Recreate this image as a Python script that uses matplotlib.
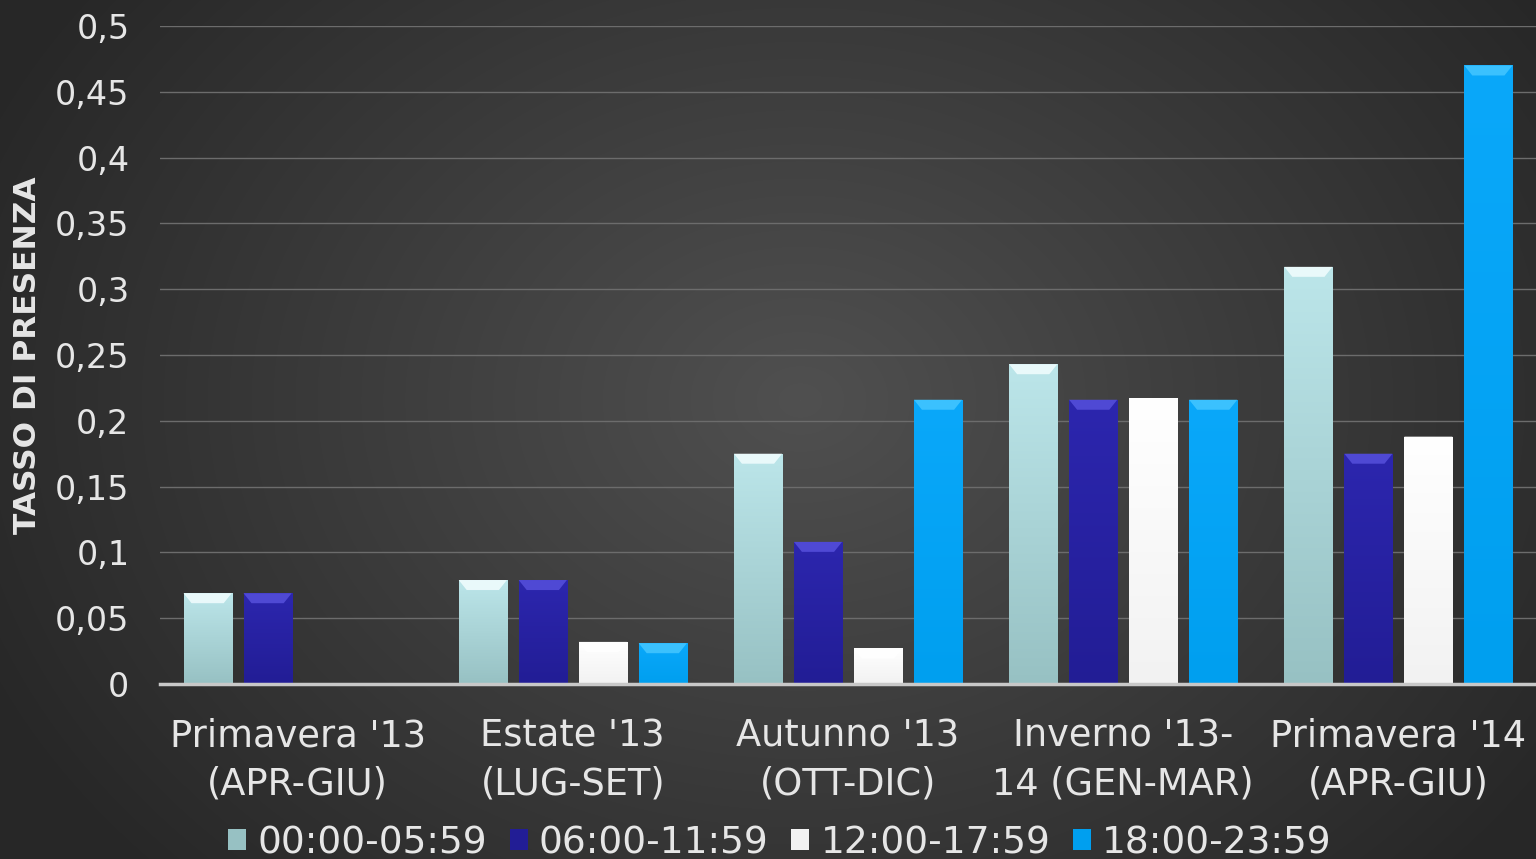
import numpy as np
import matplotlib
matplotlib.use('Agg')
import matplotlib.pyplot as plt
from matplotlib.colors import LinearSegmentedColormap, to_rgb
from matplotlib.patches import Polygon

plt.rcParams['font.family'] = ['DejaVu Sans']

# dati
categorie = ["Primavera '13\n(APR-GIU)", "Estate '13\n(LUG-SET)", "Autunno '13\n(OTT-DIC)",
             "Inverno '13-\n14 (GEN-MAR)", "Primavera '14\n(APR-GIU)"]
fasce = ['00:00-05:59', '06:00-11:59', '12:00-17:59', '18:00-23:59']
v_notte = [0.069, 0.079, 0.175, 0.243, 0.317]
v_mattina = [0.069, 0.079, 0.108, 0.216, 0.175]
v_pomeriggio = [0.0, 0.032, 0.027, 0.217, 0.188]
v_sera = [0.0, 0.031, 0.216, 0.216, 0.470]
yticks = [0, 0.05, 0.1, 0.15, 0.2, 0.25, 0.3, 0.35, 0.4, 0.45, 0.5]

serie = [v_notte, v_mattina, v_pomeriggio, v_sera]
# colore alto, colore basso, smusso
colori = [('#bce6ea', '#97c1c3', '#f2fdfe'), ('#2c26ae', '#221d95', '#5650dc'),
          ('#ffffff', '#f2f2f2', '#ffffff'), ('#0aa8fa', '#009fef', '#45c6ff')]

fig = plt.figure(figsize=(15.36, 8.59), dpi=100)

# sfondo con gradiente radiale
bg = fig.add_axes([0, 0, 1, 1])
bg.set_axis_off()
yy, xx = np.mgrid[0:859, 0:1536]
r = np.sqrt(((xx - 800) / 900.0) ** 2 + ((yy - 400) / 700.0) ** 2)
r = np.clip(r, 0, 1)
c_in = np.array(to_rgb('#505050'))
c_out = np.array(to_rgb('#272727'))
img = c_in[None, None, :] * (1 - r[..., None]) + c_out[None, None, :] * r[..., None]
bg.imshow(img, aspect='auto', extent=[0, 1, 0, 1], origin='upper')
bg.set_xlim(0, 1)
bg.set_ylim(0, 1)

ax = fig.add_axes([160 / 1536, 1 - 684 / 859, 1 - 160 / 1536, (684 - 26) / 859])
ax.patch.set_alpha(0)
ax.set_xlim(-0.5, len(categorie) - 0.5)
ax.set_ylim(0, 0.5)

x = np.arange(len(categorie))
w = 0.175
step = 0.218
# smusso: ~10 px in altezza, ~8 px di rientro
dy = 10 * 0.5 / 658
dx = 8 * 5 / 1376
for i, (vals, (ctop, cbot, cbev)) in enumerate(zip(serie, colori)):
    pos = x + (i - 1.5) * step
    bars = ax.bar(pos, vals, width=w, color=cbot, label=fasce[i], zorder=3,
                  edgecolor='none')
    cmap = LinearSegmentedColormap.from_list('g%d' % i, [cbot, ctop])
    grad = np.linspace(0, 1, 256).reshape(-1, 1)
    for b in bars:
        if b.get_height() <= 0:
            continue
        bx, by = b.get_x(), b.get_y()
        bw, bh = b.get_width(), b.get_height()
        im = ax.imshow(grad, cmap=cmap, origin='lower', aspect='auto',
                       extent=[bx, bx + bw, by, by + bh], zorder=4)
        im.set_clip_path(b)
        top = by + bh
        ax.add_patch(Polygon([[bx, top], [bx + bw, top], [bx + bw - dx, top - dy],
                              [bx + dx, top - dy]], closed=True, facecolor=cbev,
                             edgecolor='none', alpha=0.85, zorder=5))

ax.set_yticks(yticks)
ax.set_yticklabels([('%g' % t).replace('.', ',') for t in yticks])
ax.set_xticks(x)
ax.set_xticklabels(categorie, linespacing=1.4)
ax.grid(axis='y', color='#6c6c6c', linewidth=1, zorder=0)
ax.set_axisbelow(True)
for s in ['top', 'right', 'left']:
    ax.spines[s].set_visible(False)
ax.spines['bottom'].set_color('#c8c8c8')
ax.spines['bottom'].set_linewidth(2.5)
ax.spines['bottom'].set_zorder(6)
ax.tick_params(axis='both', length=0, colors='#e6e6e6')
ax.tick_params(axis='y', labelsize=24, pad=22)
ax.tick_params(axis='x', labelsize=26.5, pad=24)
ax.set_ylabel('TASSO DI PRESENZA', color='#e6e6e6', fontsize=22.5,
              fontweight='bold')
ax.yaxis.set_label_coords((42 - 160) / 1376, 0.5)

leg = fig.legend(loc='center', bbox_to_anchor=(780 / 1536, 1 - 843 / 859), ncol=4,
                 frameon=False, fontsize=27, handlelength=0.48, handleheight=0.48,
                 handletextpad=0.3, columnspacing=0.6, borderpad=0)
for t in leg.get_texts():
    t.set_color('#e6e6e6')

fig.savefig('out.png', dpi=100)
